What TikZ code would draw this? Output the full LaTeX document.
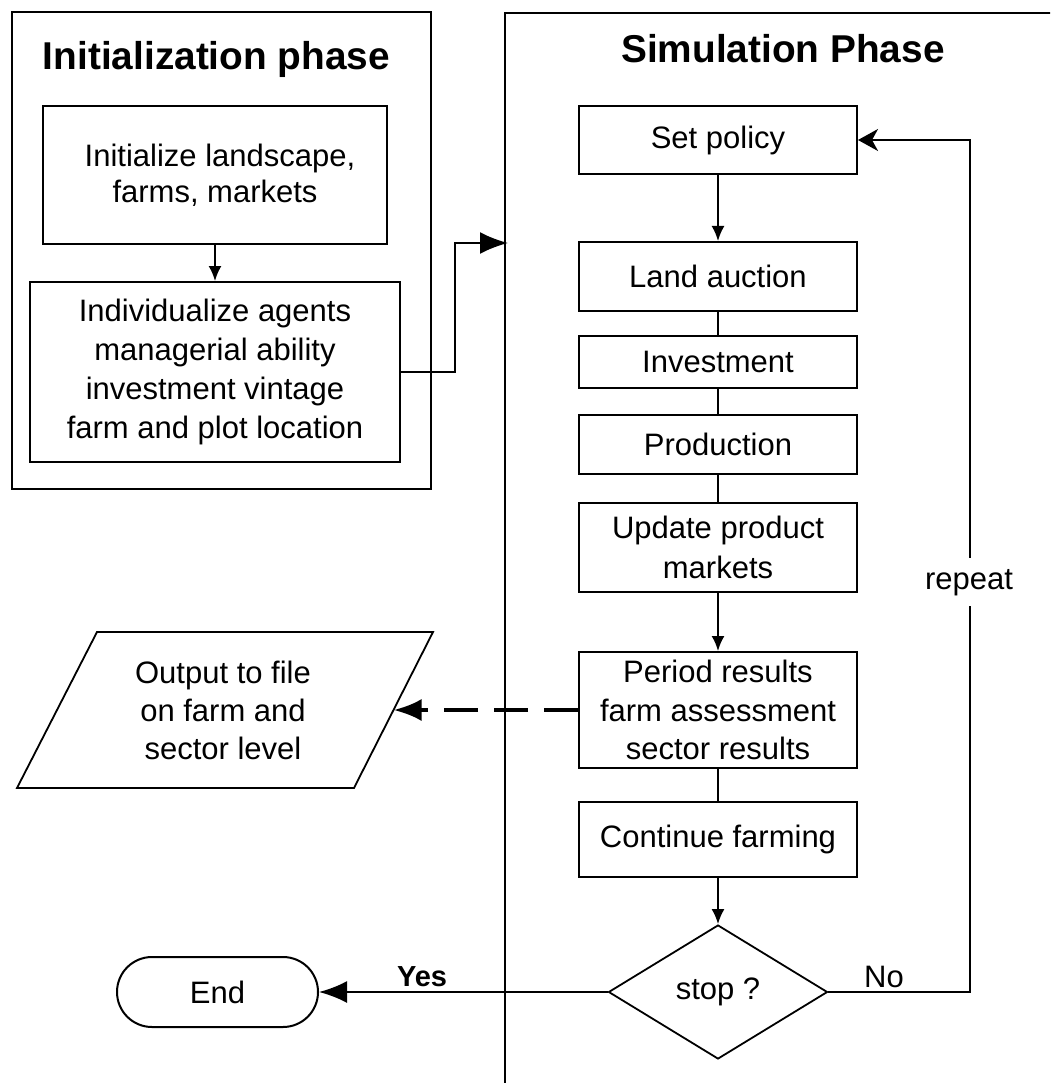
\documentclass[tikz,border=0pt]{standalone}
\usepackage{fontspec}
\setmainfont{Liberation Sans}
\usetikzlibrary{arrows.meta,shapes.geometric}
\tikzset{
  procbox/.style={draw, line width=2pt, rectangle, inner sep=0pt, align=center,
    minimum width=278pt, font=\fontsize{31}{38}\selectfont},
  phaseframe/.style={draw, line width=2.2pt, inner sep=0pt},
  flow/.style={line width=2pt},
  smallarrow/.style={-{Latex[length=15pt,width=13pt]}},
  bigarrow/.style={-{Latex[length=28pt,width=22pt]}},
  looparrow/.style={-{Stealth[length=20pt,width=22pt,inset=6pt]}},
  ttl/.style={font=\fontsize{38.8}{44}\selectfont\bfseries, anchor=base, inner sep=0pt},
  lbl/.style={font=\fontsize{31}{38}\selectfont, anchor=base, inner sep=0pt},
}
\begin{document}
\begin{tikzpicture}[x=1pt,y=-1pt]
\useasboundingbox (0,0) rectangle (1050,1083);
\fill[white] (0,0) rectangle (1050,1083);
% phase frames
\node[phaseframe, minimum width=419pt, minimum height=477pt, anchor=north west] (initframe) at (11,11) {};
\begin{scope}
\clip (0,0) rectangle (1050,1083);
\node[phaseframe, minimum width=620pt, minimum height=1120pt, anchor=north west] (simframe) at (504,12) {};
\end{scope}
\node[ttl] (inittitle) at (216.5,70) {Initialization phase};
\node[ttl] (simtitle) at (783,63) {Simulation Phase};
% initialization boxes
\node[procbox, minimum width=344pt, minimum height=138pt, font=\fontsize{31}{36}\selectfont] (landscape) at (215,175) {\hspace*{10pt}Initialize landscape,\\farms, markets};
\node[procbox, minimum width=370pt, minimum height=180pt, font=\fontsize{31}{39}\selectfont] (agents) at (215,372) {Individualize agents\\managerial ability\\investment vintage\\farm and plot location};
% simulation boxes
\node[procbox, minimum height=68pt] (policy) at (718,140) {Set policy};
\node[procbox, minimum height=69pt] (auction) at (718,276.5) {Land auction};
\node[procbox, minimum height=52pt] (invest) at (718,362) {Investment};
\node[procbox, minimum height=59pt] (prod) at (718,444.5) {Production};
\node[procbox, minimum height=89pt, font=\fontsize{31}{40}\selectfont] (update) at (718,547.5) {Update product\\markets};
\node[procbox, minimum height=116pt, font=\fontsize{31}{38.5}\selectfont] (period) at (718,710) {Period results\\farm assessment\\sector results};
\node[procbox, minimum height=75pt] (cont) at (718,839.5) {Continue farming};
\node[draw, diamond, line width=1.8pt, minimum width=219pt, minimum height=134pt, inner sep=0pt,
  font=\fontsize{31}{38}\selectfont] (stop) at (718,992) {stop ?};
\node[draw, line width=2pt, rounded corners=35pt, minimum width=201pt, minimum height=70pt, inner sep=0pt,
  font=\fontsize{31}{38}\selectfont] (end) at (217.5,992) {End};
% output parallelogram
\coordinate (outBL) at (17,788);
\coordinate (outBR) at (354,788);
\coordinate (outTR) at (433,632);
\coordinate (outTL) at (97,632);
\coordinate (outR) at (393.5,710);
\draw[line width=1.8pt, line join=miter] (outBL) -- (outBR) -- (outTR) -- (outTL) -- cycle;
\node[align=center, inner sep=0pt, font=\fontsize{31}{38}\selectfont] (out) at (223,710) {Output to file\\on farm and\\sector level};
% connectors
\coordinate (simin) at (508,243);
\draw[flow, smallarrow] (landscape) -- (agents);
\draw[flow, bigarrow] (agents.east) -- ++(54,0) |- (simin);
\draw[flow, smallarrow] (policy) -- (auction);
\draw[flow] (auction) -- (invest);
\draw[flow] (invest) -- (prod);
\draw[flow] (prod) -- (update);
\draw[flow, smallarrow] (update) -- (period);
\draw[flow] (period) -- (cont);
\draw[flow, smallarrow] (cont) -- (stop);
\draw[flow, bigarrow] (stop.west) -- (end.east);
\draw[flow, looparrow] (stop.east) -- ++(142,0) |- (policy.east);
\draw[line width=4pt, dash pattern=on 34pt off 16pt, bigarrow] (period.west) -- (outR);
% labels
\node[lbl, fill=white, inner xsep=3pt, inner ysep=11pt] (repeat) at (969,589) {repeat};
\node[lbl] (no) at (884,987) {No};
\node[font=\fontsize{29}{34}\selectfont\bfseries, anchor=base, inner sep=0pt] (yes) at (422,986) {Yes};
\end{tikzpicture}
\end{document}
